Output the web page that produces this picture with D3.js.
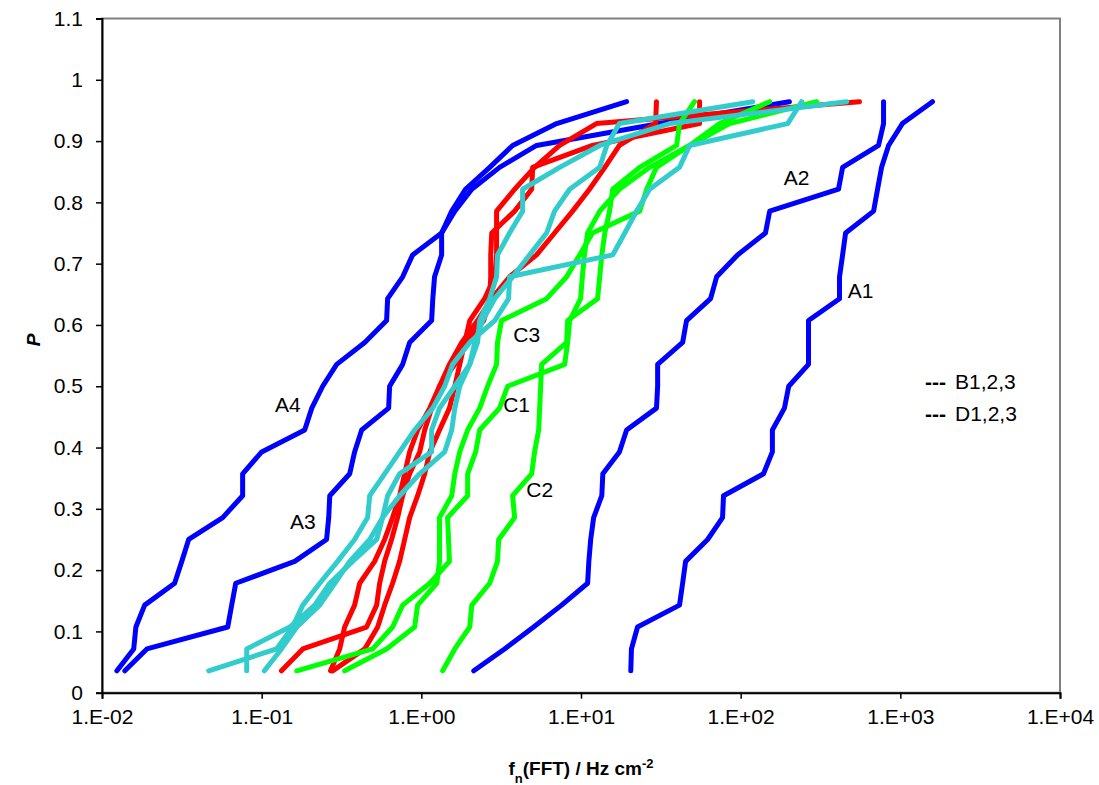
<!DOCTYPE html>
<html>
<head>
<meta charset="utf-8">
<script src="https://cdn.jsdelivr.net/npm/d3@7"></script>
<style>
  body { margin: 0; background: #fff; }
  text { font-family: Arial, "Liberation Sans", sans-serif; }
</style>
</head>
<body>
<svg id="chart" width="1099" height="785"></svg>
<script>
// Cumulative probability levels shared by every distribution (i / 28, i = 1..27)
const probability = d3.range(1, 28).map(i => i / 28);

// f_n(FFT) values (Hz cm^-2), one entry per probability level
const A1 = [20.5, 20.7, 22.6, 41.4, 43.3, 45.2, 62.1, 77, 78.1, 139, 158, 158, 188, 200, 266, 266, 266, 416, 416, 435, 454, 680, 720, 763, 844, 1030, 1590];
const A2 = [2.13, 3.32, 5.05, 7.56, 11, 11.2, 11.5, 12, 13.5, 13.7, 17.4, 19.3, 29.7, 30.2, 30.2, 43.3, 45.8, 64.8, 70.7, 95.6, 143, 152, 410, 435, 730, 785, 785];
const A3 = [0.0139, 0.0191, 0.0613, 0.0649, 0.0688, 0.161, 0.255, 0.263, 0.267, 0.356, 0.382, 0.423, 0.624, 0.633, 0.764, 0.845, 1.16, 1.18, 1.21, 1.34, 1.34, 1.62, 2.07, 3.09, 5.27, 31.1, 202];
const A4 = [0.0124, 0.0158, 0.0163, 0.0185, 0.0285, 0.0316, 0.0349, 0.057, 0.076, 0.076, 0.1, 0.186, 0.206, 0.241, 0.295, 0.442, 0.606, 0.615, 0.764, 0.882, 1.34, 1.55, 1.89, 2.68, 3.73, 7.04, 19.3];

const B1 = [0.133, 0.181, 0.454, 0.525, 0.548, 0.589, 0.651, 0.71, 0.764, 0.845, 0.976, 1.05, 1.16, 1.3, 1.5, 1.79, 2.25, 2.76, 3.57, 5.27, 6.83, 8.86, 11.3, 14.1, 17.4, 29.3, 29.7];
const B2 = [0.27, 0.308, 0.331, 0.382, 0.411, 0.51, 0.589, 0.661, 0.731, 0.786, 0.845, 0.948, 1.13, 1.3, 1.62, 1.87, 2.46, 2.68, 2.72, 2.72, 2.76, 3.84, 4.91, 4.98, 11.8, 55.3, 55.3];
const B3 = [0.278, 0.442, 0.533, 0.589, 0.661, 0.731, 0.786, 0.845, 0.948, 1.05, 1.13, 1.3, 1.5, 1.62, 1.74, 1.87, 2.01, 2.49, 2.88, 2.96, 2.96, 2.96, 3.84, 5.12, 7.35, 12.5, 555];

const C1 = [0.166, 0.496, 0.661, 0.764, 1.13, 1.5, 1.48, 1.46, 1.95, 1.95, 2.19, 2.32, 3.09, 3.47, 7.9, 8.25, 8.49, 9.94, 10.2, 10.5, 11, 13.1, 17.4, 26.9, 47.9, 73.8, 152];
const C2 = [1.36, 1.62, 2.01, 2.07, 2.68, 3.0, 3.05, 3.84, 3.73, 4.91, 5.12, 5.43, 5.51, 5.59, 5.67, 8.13, 8.25, 12.7, 13.1, 13.5, 14.1, 15.1, 15.8, 23.3, 39.7, 41.4, 51.4];
const C3 = [0.331, 0.606, 0.908, 0.948, 1.25, 1.3, 1.3, 1.3, 1.55, 1.62, 1.74, 1.95, 2.32, 2.6, 2.96, 3.0, 3.18, 6.09, 8.13, 9.8, 11.8, 23.3, 25.8, 29.7, 47.9, 85.2, 299];

const D1 = [0.0466, 0.124, 0.156, 0.181, 0.231, 0.299, 0.382, 0.461, 0.475, 0.589, 0.731, 0.908, 1.18, 1.4, 1.57, 2.01, 2.88, 3.52, 3.57, 15.8, 18.8, 22.3, 26.9, 41.4, 47.9, 197, 241];
const D2 = [0.0806, 0.0806, 0.15, 0.215, 0.267, 0.371, 0.525, 0.572, 0.615, 0.731, 1.16, 1.16, 1.3, 1.62, 2.01, 2.25, 2.32, 2.68, 2.96, 3.0, 3.57, 4.31, 4.31, 7.35, 13.1, 35.9, 461];
const D3 = [0.104, 0.133, 0.166, 0.231, 0.287, 0.356, 0.475, 0.572, 0.731, 0.976, 1.4, 1.55, 1.62, 1.74, 2.01, 2.16, 2.42, 2.88, 3.73, 4.77, 6.09, 6.83, 8.49, 13.1, 14.5, 17.4, 119];

// Axis ticks and their printed labels
const xTicks = [0.01, 0.1, 1, 10, 100, 1000, 10000];
const xTickLabels = ["1.E-02", "1.E-01", "1.E+00", "1.E+01", "1.E+02", "1.E+03", "1.E+04"];
const yTicks = d3.range(0, 12).map(i => i / 10);
const yTickLabels = ["0", "0.1", "0.2", "0.3", "0.4", "0.5", "0.6", "0.7", "0.8", "0.9", "1", "1.1"];

// Curve annotations (value-space anchors)
const curveLabels = [
  { text: "A4", f: 0.146, p: 0.471 },
  { text: "A3", f: 0.181, p: 0.280 },
  { text: "A2", f: 224, p: 0.840 },
  { text: "A1", f: 563, p: 0.657 },
  { text: "C3", f: 4.57, p: 0.584 },
  { text: "C1", f: 3.95, p: 0.471 },
  { text: "C2", f: 5.51, p: 0.331 }
];
const legendItems = ["B1,2,3", "D1,2,3"];

const series = [
  { name: "A1", color: "#0000FF", values: A1 },
  { name: "A2", color: "#0000FF", values: A2 },
  { name: "A3", color: "#0000FF", values: A3 },
  { name: "A4", color: "#0000FF", values: A4 },
  { name: "B1", color: "#FF0000", values: B1 },
  { name: "B2", color: "#FF0000", values: B2 },
  { name: "B3", color: "#FF0000", values: B3 },
  { name: "C1", color: "#00FF00", values: C1 },
  { name: "C2", color: "#00FF00", values: C2 },
  { name: "C3", color: "#00FF00", values: C3 },
  { name: "D1", color: "#33CCCC", values: D1 },
  { name: "D2", color: "#33CCCC", values: D2 },
  { name: "D3", color: "#33CCCC", values: D3 }
];

const svg = d3.select("#chart");
const plot = { left: 102, right: 1060, top: 18.5, bottom: 692.7 };

const x = d3.scaleLog().domain([0.01, 10000]).range([plot.left, plot.right]);
const y = d3.scaleLinear().domain([0, 1.1]).range([plot.bottom, plot.top]);

// Plot-area frame
svg.append("rect")
  .attr("x", plot.left).attr("y", plot.top)
  .attr("width", plot.right - plot.left).attr("height", plot.bottom - plot.top)
  .attr("fill", "none").attr("stroke", "#808080").attr("stroke-width", 2);

// Axes
const xAxis = d3.axisBottom(x).tickValues(xTicks)
  .tickFormat((d, i) => xTickLabels[i]).tickSize(6).tickPadding(10);
const gx = svg.append("g").attr("transform", `translate(0,${plot.bottom})`).call(xAxis);

const yAxis = d3.axisLeft(y).tickValues(yTicks)
  .tickFormat((d, i) => yTickLabels[i]).tickSize(6).tickPadding(13);
const gy = svg.append("g").attr("transform", `translate(${plot.left},0)`).call(yAxis);

[gx, gy].forEach(g => {
  g.select(".domain").attr("stroke", "#000").attr("stroke-width", 2);
  g.selectAll(".tick line").attr("stroke", "#000").attr("stroke-width", 1.5);
  g.selectAll(".tick text").attr("fill", "#000").style("font-size", "21px")
    .style("font-family", "Arial, 'Liberation Sans', sans-serif");
});

// Distribution curves
const line = d3.line()
  .x(d => x(d[0]))
  .y(d => y(d[1]));

svg.append("g").attr("fill", "none").attr("stroke-width", 5)
  .attr("stroke-linejoin", "round").attr("stroke-linecap", "round")
  .selectAll("path")
  .data(series)
  .join("path")
  .attr("stroke", d => d.color)
  .attr("d", d => line(d.values.map((v, i) => [v, probability[i]])));

// Curve annotations
svg.append("g").selectAll("text")
  .data(curveLabels)
  .join("text")
  .attr("x", d => x(d.f))
  .attr("y", d => y(d.p))
  .attr("text-anchor", "middle")
  .attr("dominant-baseline", "central")
  .style("font-size", "21px")
  .text(d => d.text);

// Legend entries
const legend = svg.append("g").attr("transform", "translate(925,381)");
legend.selectAll("text")
  .data(legendItems)
  .join("text")
  .attr("y", (d, i) => i * 32)
  .attr("dominant-baseline", "central")
  .style("font-size", "21px")
  .each(function (d) {
    const t = d3.select(this);
    t.append("tspan").attr("font-weight", "bold").text("---");
    t.append("tspan").attr("dx", 9).text(d);
  });

// Axis titles
const xTitle = svg.append("text")
  .attr("x", 581).attr("y", 775)
  .attr("text-anchor", "middle")
  .style("font-size", "19px").attr("font-weight", "bold");
xTitle.append("tspan").text("f");
xTitle.append("tspan").attr("baseline-shift", "sub").style("font-size", "13px").text("n");
xTitle.append("tspan").text("(FFT) / Hz cm");
xTitle.append("tspan").attr("baseline-shift", "super").style("font-size", "13px").text("-2");

svg.append("text")
  .attr("transform", "translate(40,340) rotate(-90)")
  .attr("text-anchor", "middle")
  .style("font-size", "19px")
  .attr("font-weight", "bold").attr("font-style", "italic")
  .text("P");
</script>
</body>
</html>
